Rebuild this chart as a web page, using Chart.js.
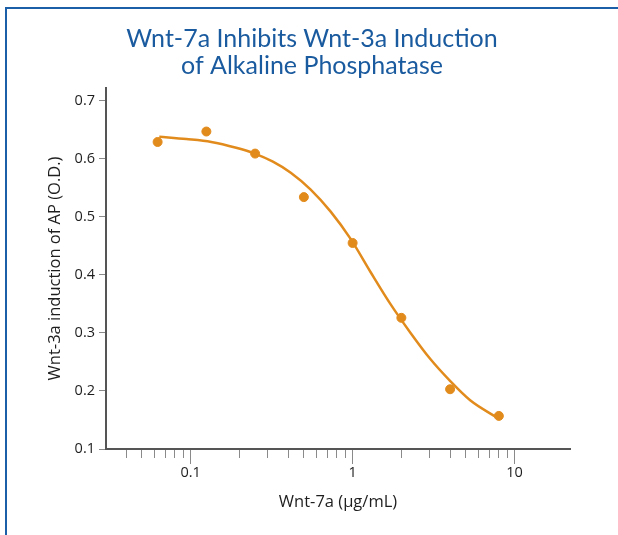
<!DOCTYPE html>
<html>
<head>
<meta charset="utf-8">
<script src="https://cdn.jsdelivr.net/npm/chart.js@4.4.0/dist/chart.umd.min.js"></script>
<style>
  html, body { margin: 0; padding: 0; background: #fff; overflow: hidden; }
  #frame {
    position: absolute; left: 5px; top: 7px; right: -5px; bottom: -5px;
    border-left: 2px solid #1b5fa9; border-top: 2px solid #1b5fa9;
  }
  #wrap { position: absolute; left: 0; top: 0; width: 618px; height: 535px; }
</style>
</head>
<body>
<div id="frame"></div>
<div id="wrap"><canvas id="chart"></canvas></div>
<script>
// measured points (Wnt-7a dose vs AP O.D.)
const doseValues = [0.0625, 0.125, 0.25, 0.5, 1, 2, 4, 8];
const apValues = [0.629, 0.647, 0.609, 0.534, 0.455, 0.326, 0.203, 0.157];

// fitted curve
const fitDoses = [0.064, 0.094, 0.134, 0.191, 0.249, 0.322, 0.415, 0.551, 0.732, 0.972, 1.29, 1.71, 2.28, 3.02, 4.01, 5.32, 7.91];
const fitValues = [0.638, 0.634, 0.629, 0.619, 0.609, 0.595, 0.576, 0.547, 0.509, 0.462, 0.405, 0.35, 0.3, 0.255, 0.217, 0.184, 0.153];

const xMajorTicks = [0.1, 1, 10];
const xTickLabels = ["0.1", "1", "10"];
const xMinorTicks = [0.04, 0.05, 0.06, 0.07, 0.08, 0.09, 0.2, 0.3, 0.4, 0.5, 0.6, 0.7, 0.8, 0.9, 2, 3, 4, 5, 6, 7, 8, 9];
const yTicks = [0.1, 0.2, 0.3, 0.4, 0.5, 0.6, 0.7];
const yTickLabels = ["0.1", "0.2", "0.3", "0.4", "0.5", "0.6", "0.7"];

const orange = "#e28b1d";
const axisColor = "#555555";
const tickColor = "#8a8a8a";
const textColor = "#1e1e1e";
const textFont = "'Open Sans', 'Noto Sans', sans-serif";

function isMajor(value) {
  return xMajorTicks.some((m) => Math.abs(m - value) < m * 1e-6);
}

const ctx = document.getElementById("chart");

new Chart(ctx, {
  type: "scatter",
  data: {
    datasets: [
      {
        label: "Fit",
        data: fitDoses.map((d, i) => ({ x: d, y: fitValues[i] })),
        showLine: true,
        borderColor: orange,
        borderWidth: 2.5,
        pointRadius: 0,
        cubicInterpolationMode: "monotone",
        fill: false,
      },
      {
        label: "Wnt-3a induction",
        data: doseValues.map((d, i) => ({ x: d, y: apValues[i] })),
        showLine: false,
        backgroundColor: orange,
        borderColor: orange,
        pointRadius: 4.5,
        pointHoverRadius: 4.5,
      },
    ],
  },
  options: {
    responsive: true,
    maintainAspectRatio: false,
    animation: false,
    layout: { padding: { left: 54, right: 48, top: 0, bottom: 0 } },
    plugins: {
      legend: { display: false },
      tooltip: { enabled: false },
      title: {
        display: true,
        text: ["Wnt-7a Inhibits Wnt-3a Induction", "of Alkaline Phosphatase"],
        color: "#1a5a9e",
        font: { family: "Lato, 'Noto Sans', sans-serif", size: 25, weight: "normal", lineHeight: 1.08 },
        padding: { top: 25.5, bottom: 8.5 },
      },
    },
    scales: {
      x: {
        type: "logarithmic",
        min: 0.03,
        max: 22,
        afterBuildTicks: (scale) => {
          scale.ticks = xMajorTicks.concat(xMinorTicks)
            .sort((a, b) => a - b)
            .map((v) => ({ value: v, major: isMajor(v) }));
        },
        afterFit: (scale) => {
          scale.height = 86;
        },
        ticks: {
          autoSkip: false,
          maxRotation: 0,
          padding: 0,
          color: textColor,
          font: { family: textFont, size: 14.5 },
          callback: (value) => {
            const i = xMajorTicks.findIndex((m) => Math.abs(m - value) < m * 1e-6);
            return i >= 0 ? xTickLabels[i] : "";
          },
        },
        grid: {
          drawOnChartArea: false,
          tickLength: 15,
          tickColor: tickColor,
          tickWidth: 1,
          tickBorderDash: (c) => (c.tick && c.tick.major ? [] : [8, 30]),
        },
        border: { color: axisColor, width: 2 },
        title: {
          display: true,
          text: "Wnt-7a (µg/mL)",
          color: textColor,
          font: { family: textFont, size: 16.5 },
          padding: { top: 0, bottom: 23 },
        },
      },
      y: {
        min: 0.1,
        max: 0.722,
        afterBuildTicks: (scale) => {
          scale.ticks = yTicks.map((v) => ({ value: v }));
        },
        afterFit: (scale) => {
          scale.width = 52;
        },
        ticks: {
          padding: 4,
          color: textColor,
          font: { family: textFont, size: 14.5 },
          callback: (value) => {
            const i = yTicks.findIndex((t) => Math.abs(t - value) < 1e-6);
            return i >= 0 ? yTickLabels[i] : "";
          },
        },
        grid: {
          drawOnChartArea: false,
          tickLength: 7,
          tickColor: tickColor,
          tickWidth: 1,
        },
        border: { color: axisColor, width: 2 },
        title: {
          display: true,
          text: "Wnt-3a induction of AP (O.D.)",
          color: textColor,
          font: { family: textFont, size: 16.5 },
          padding: { top: -9, bottom: 0 },
        },
      },
    },
  },
});
</script>
</body>
</html>
